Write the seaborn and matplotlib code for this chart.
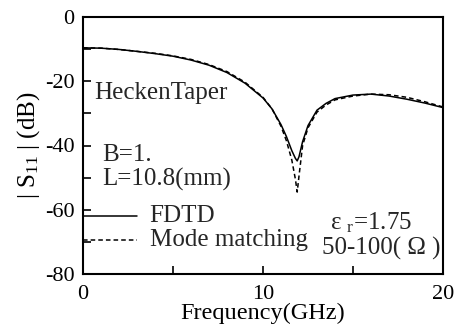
import numpy as np
import pandas as pd
import seaborn as sns
import matplotlib
matplotlib.use("Agg")
import matplotlib.pyplot as plt
from matplotlib.ticker import MultipleLocator

freq = [0, 1, 2, 3, 4, 5, 6, 7, 8, 9, 10, 10.5, 11, 11.3, 11.6, 11.8, 11.9, 12.0, 12.2, 12.5, 13, 13.5, 14, 15, 16, 17, 18, 19, 20]
fdtd = [-9.6, -9.7, -10.1, -10.7, -11.4, -12.2, -13.4, -15.0, -17.3, -20.6, -25.2, -28.6, -33.5, -37.2, -41.6, -44.0, -44.8, -43.5, -38.8, -33.8, -29.0, -26.9, -25.4, -24.3, -24.0, -24.6, -25.6, -26.8, -28.2]
mode = [-9.6, -9.7, -10.1, -10.7, -11.3, -12.1, -13.2, -14.8, -17.0, -20.3, -25.0, -28.6, -34.0, -38.5, -44.5, -50.5, -54.5, -49.5, -40.0, -34.5, -29.6, -27.4, -25.8, -24.6, -24.0, -24.2, -25.0, -26.4, -28.0]

sns.set_theme(style="ticks")
plt.rcParams['font.family'] = ['Liberation Serif', 'DejaVu Serif']
plt.rcParams['mathtext.fontset'] = 'custom'
plt.rcParams['mathtext.rm'] = 'Liberation Serif'
plt.rcParams['mathtext.it'] = 'Liberation Serif'
plt.rcParams['axes.unicode_minus'] = False

df = pd.DataFrame({"f": freq * 2, "s": fdtd + mode,
                   "m": ["FDTD"] * len(freq) + ["Mode matching"] * len(freq)})

fig = plt.figure(figsize=(4.61, 3.24), dpi=100)
ax = fig.add_axes([83 / 461, 50 / 324, 360 / 461, 257 / 324])
sns.lineplot(data=df, x="f", y="s", hue="m", style="m",
             palette=["black", "black"], dashes={"FDTD": "", "Mode matching": (3, 2)},
             linewidth=1.1, ax=ax, legend=False)

ax.set_xlim(0, 20)
ax.set_ylim(-80, 0)
ax.xaxis.set_major_locator(MultipleLocator(10))
ax.xaxis.set_minor_locator(MultipleLocator(5))
ax.yaxis.set_major_locator(MultipleLocator(20))
ax.yaxis.set_minor_locator(MultipleLocator(10))
ax.tick_params(which="both", direction="in", colors="black", labelsize=16, width=1.2, length=6)
ax.tick_params(axis="x", pad=8)
ax.tick_params(axis="y", pad=6)
for s in ax.spines.values():
    s.set_linewidth(1.5)
    s.set_color("black")

ax.set_xlabel("Frequency(GHz)", fontsize=17.5, labelpad=-1, color="black")
ax.set_ylabel("| S$_{11}$ | (dB)", fontsize=18, labelpad=2, color="black")

# legend drawn manually
ax.plot([0, 3.0], [-62.0, -62.0], color="black", lw=1.1)
ax.plot([0, 3.0], [-69.4, -69.4], color="black", lw=1.1, ls=(0, (3, 2)))
ax.text(3.7, -62.0, "FDTD", fontsize=18, va="center", ha="left")
ax.text(3.7, -69.4, "Mode matching", fontsize=18, va="center", ha="left")

ax.text(0.6, -23.7, "HeckenTaper", fontsize=18, va="center", ha="left")
ax.text(1.05, -43.0, "B=1.", fontsize=18, va="center", ha="left")
ax.text(1.05, -50.7, "L=10.8(mm)", fontsize=18, va="center", ha="left")
ax.text(13.7, -64.1, "ε $_{\\rm r}$=1.75", fontsize=18, va="center", ha="left")
ax.text(13.3, -71.9, "50-100( Ω )", fontsize=18, va="center", ha="left")

fig.savefig("out.png", dpi=100)
